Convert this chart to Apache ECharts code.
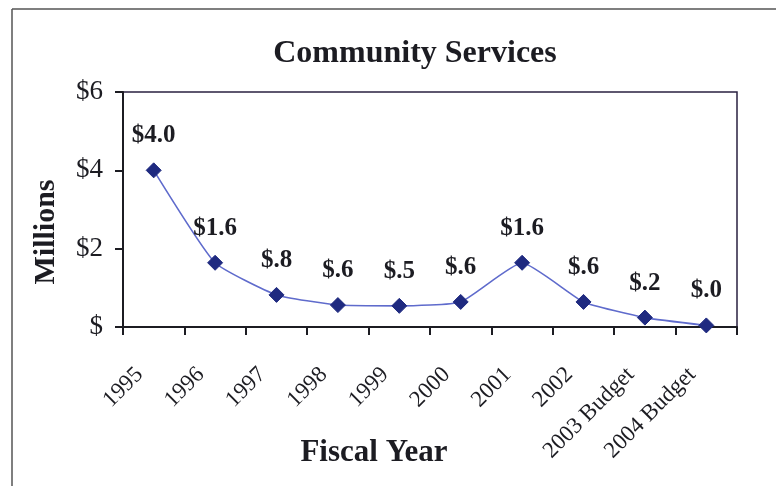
<!DOCTYPE html>
<html>
<head>
<meta charset="utf-8">
<title>Community Services</title>
<script src="https://cdn.jsdelivr.net/npm/echarts@6/dist/echarts.min.js"></script>
<style>
  html, body { margin: 0; padding: 0; background: #ffffff; }
  #chart { width: 776px; height: 486px; }
</style>
</head>
<body>
<div id="chart"></div>
<script>
// Fiscal years on the x axis
const years = ['1995', '1996', '1997', '1998', '1999', '2000', '2001', '2002', '2003 Budget', '2004 Budget'];
// Community Services spending, millions of dollars
const spending = [4.0, 1.64, 0.82, 0.56, 0.54, 0.64, 1.64, 0.64, 0.24, 0.04];
// Value axis ticks, millions
const yTicks = [0, 2, 4, 6];

const SERIF = '"Liberation Serif", "Times New Roman", serif';
const INK = '#1c1c22';

function moneyLabel(v) {
  const s = v.toFixed(1);
  return '$' + (v < 1 ? s.replace(/^0/, '') : s);
}

const chart = echarts.init(document.getElementById('chart'), null, { renderer: 'canvas' });

chart.setOption({
  backgroundColor: '#ffffff',
  animation: false,
  title: {
    text: 'Community Services',
    left: 410,
    top: 33,
    textAlign: 'center',
    textStyle: { fontFamily: SERIF, fontWeight: 'bold', fontSize: 32, color: INK }
  },
  grid: {
    left: 123, right: 39, top: 92, bottom: 159,
    show: true, borderColor: '#2a2140', borderWidth: 1.5, backgroundColor: 'transparent'
  },
  xAxis: {
    type: 'category',
    data: years,
    boundaryGap: true,
    axisLine: { lineStyle: { color: INK, width: 2 } },
    axisTick: { show: true, length: 8, alignWithLabel: false, lineStyle: { color: INK, width: 2 } },
    axisLabel: {
      rotate: 45, interval: 0, margin: 30,
      padding: [0, 20, 0, 0],
      fontFamily: SERIF, fontSize: 23, color: INK
    }
  },
  yAxis: {
    type: 'value',
    min: yTicks[0], max: yTicks[yTicks.length - 1], interval: 2,
    axisLine: { show: true, lineStyle: { color: INK, width: 2 } },
    axisTick: { show: true, length: 8, lineStyle: { color: INK, width: 2 } },
    splitLine: { show: false },
    axisLabel: {
      margin: 20,
      fontFamily: SERIF, fontSize: 27, color: INK,
      formatter: v => (v === 0 ? '$' : '$' + v)
    }
  },
  graphic: [
    { type: 'line', shape: { x1: 12, y1: 9, x2: 776, y2: 9 }, style: { stroke: '#555', lineWidth: 1.5 } },
    { type: 'line', shape: { x1: 12, y1: 9, x2: 12, y2: 486 }, style: { stroke: '#555', lineWidth: 1.5 } },
    {
      type: 'text', x: 46, y: 232, rotation: Math.PI / 2,
      style: {
        text: 'Millions', fontFamily: SERIF, fontWeight: 'bold', fontSize: 30, fill: INK,
        textAlign: 'center', textVerticalAlign: 'middle'
      }
    },
    {
      type: 'text', x: 374, y: 453,
      style: {
        text: 'Fiscal Year', fontFamily: SERIF, fontWeight: 'bold', fontSize: 31, fill: INK,
        textAlign: 'center', textVerticalAlign: 'middle'
      }
    }
  ],
  series: [{
    type: 'line',
    data: spending,
    smooth: 0.15,
    symbol: 'diamond',
    symbolSize: 15,
    lineStyle: { color: '#5f6bcc', width: 1.6 },
    itemStyle: { color: '#1f2a80', borderColor: '#1f2a80' },
    label: {
      show: true, position: 'top', distance: 14,
      fontFamily: SERIF, fontWeight: 'bold', fontSize: 25, color: INK,
      formatter: p => moneyLabel(p.value)
    }
  }]
});
</script>
</body>
</html>
